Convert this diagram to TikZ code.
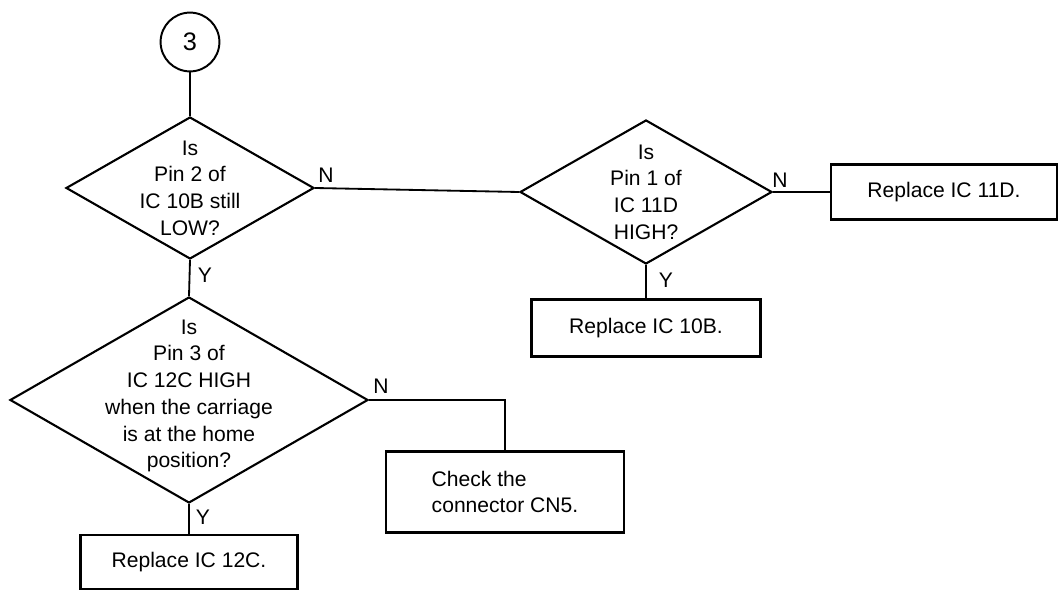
\documentclass[tikz,border=0pt]{standalone}
\usepackage{fontspec}
\setmainfont{Liberation Sans}
\usepackage{tikz}
\usetikzlibrary{shapes.geometric,positioning}

\tikzset{
  decision/.style={draw, diamond, line width=1.5pt, inner sep=0pt},
  stepbox/.style={draw, rectangle, line width=1.8pt, inner sep=0pt},
  joiner/.style={draw, circle, line width=1.4pt, inner sep=0pt, minimum size=1.47cm},
  flow/.style={line width=1.3pt},
  qtext/.style={align=center, font=\fontsize{15}{19}\selectfont},
  yn/.style={font=\fontsize{15}{17}\selectfont, inner sep=0pt}
}

\begin{document}
\begin{tikzpicture}[x=0.25mm, y=-0.25mm]
  \useasboundingbox (0,0) rectangle (1059,596);

  % Entry connector 3
  \node[joiner, font=\fontsize{18}{20}\selectfont] (c3) at (190,42) {3};

  % Pin 2 of IC 10B still LOW?
  \node[decision, minimum width=6.2cm, minimum height=3.55cm] (d1) at (190,188) {};
  \node[qtext] (d1t) at (d1) {Is\\Pin 2 of\\IC 10B still\\LOW?};

  % Pin 1 of IC 11D HIGH?
  \node[decision, minimum width=6.3cm, minimum height=3.6cm] (d2) at (646,192) {};
  \node[qtext] (d2t) at (d2) {Is\\Pin 1 of\\IC 11D\\HIGH?};

  % Pin 3 of IC 12C HIGH at home position?
  \node[decision, minimum width=8.95cm, minimum height=5.15cm] (d3) at (189,400) {};
  \node[qtext] (d3t) at (189,396) {Is\\Pin 3 of\\IC 12C HIGH\\when the carriage\\is at the home\\position?};

  % Action boxes
  \node[stepbox, qtext, minimum width=5.65cm, minimum height=1.38cm] (b11d) at (944,192) {Replace IC 11D.};
  \node[stepbox, qtext, minimum width=5.72cm, minimum height=1.42cm] (b10b) at (646,328) {Replace IC 10B.};
  \node[stepbox, qtext, minimum width=5.42cm, minimum height=1.35cm] (b12c) at (189,562) {Replace IC 12C.};
  \node[stepbox, minimum width=5.95cm, minimum height=2.02cm] (bcn5) at (505,492) {};
  \node[qtext, align=left] (bcn5t) at (bcn5) {Check the\\connector CN5.};

  % Flow lines
  \draw[flow] (c3.south) -- (d1.north);
  \draw[flow] (d1.east) -- (d2.west);
  \draw[flow] (d2.east) -- (b11d.west);
  \draw[flow] (d2.south) -- (b10b.north);
  \draw[flow] (d1.south) -- (d3.north);
  \draw[flow] (d3.east) -| (bcn5.north);
  \draw[flow] (d3.south) -- (b12c.north);

  % Y / N labels
  \node[yn] (n1) at (326,175) {N};
  \node[yn] (n2) at (780,180) {N};
  \node[yn] (n3) at (381,386) {N};
  \node[yn] (y1) at (205,275) {Y};
  \node[yn] (y2) at (666,280) {Y};
  \node[yn] (y3) at (203,517) {Y};
\end{tikzpicture}
\end{document}
